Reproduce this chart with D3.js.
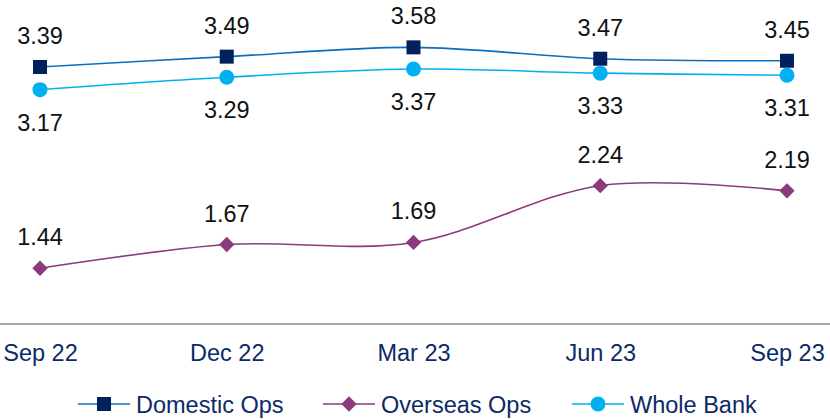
<!DOCTYPE html>
<html>
<head>
<meta charset="utf-8">
<script src="https://cdn.jsdelivr.net/npm/d3@7"></script>
<style>
  html, body { margin: 0; padding: 0; background: #fff; }
  svg { display: block; font-family: "Liberation Sans", Arial, sans-serif; }
</style>
</head>
<body>
<svg id="chart" width="830" height="419"></svg>
<script>
const categories = ["Sep 22", "Dec 22", "Mar 23", "Jun 23", "Sep 23"];
const domesticOps = [3.39, 3.49, 3.58, 3.47, 3.45];
const overseasOps = [1.44, 1.67, 1.69, 2.24, 2.19];
const wholeBank = [3.17, 3.29, 3.37, 3.33, 3.31];
const seriesNames = ["Domestic Ops", "Overseas Ops", "Whole Bank"];

const svg = d3.select("#chart");
const W = 830, H = 419;

const x = d3.scalePoint().domain(categories).range([40, 787]);
const y = d3.scaleLinear().domain([0.9, 4.0]).range([324, 4]);

// axis
const xAxis = d3.axisBottom(x).tickSize(0).tickPadding(18);
const gx = svg.append("g").attr("transform", "translate(0,324)").call(xAxis);
gx.select(".domain").remove();
gx.append("line").attr("x1", 0).attr("x2", W).attr("y1", 0).attr("y2", 0)
  .attr("stroke", "#8c8c8c").attr("stroke-width", 1.5);
gx.selectAll(".tick text")
  .attr("font-size", 23.5).attr("fill", "#0c2a66")
  .attr("y", 37).attr("dy", 0)
  .attr("font-family", "Liberation Sans, Arial, sans-serif");

const series = [
  { name: seriesNames[0], values: domesticOps, line: "#0a6ec0", marker: "#00215e", shape: "square", labelPos: "above" },
  { name: seriesNames[1], values: overseasOps, line: "#8b3a7d", marker: "#8b3a7d", shape: "diamond", labelPos: "above" },
  { name: seriesNames[2], values: wholeBank, line: "#00b0f0", marker: "#00b0f0", shape: "circle", labelPos: "below" }
];

const lineGen = d3.line()
  .x((d, i) => x(categories[i]))
  .y(d => y(d))
  .curve(d3.curveCardinal.tension(0));

function drawMarker(g, shape, cx, cy, color) {
  if (shape === "square") {
    g.append("rect").attr("x", cx - 7).attr("y", cy - 7).attr("width", 14).attr("height", 14).attr("fill", color);
  } else if (shape === "diamond") {
    g.append("path").attr("d", d3.symbol().type(d3.symbolDiamond2).size(150)()).attr("transform", `translate(${cx},${cy}) `).attr("fill", color);
  } else {
    g.append("circle").attr("cx", cx).attr("cy", cy).attr("r", 7.5).attr("fill", color);
  }
}

series.forEach(s => {
  const g = svg.append("g");
  g.append("path").datum(s.values).attr("d", lineGen)
    .attr("fill", "none").attr("stroke", s.line).attr("stroke-width", 1.6);
  s.values.forEach((v, i) => {
    drawMarker(g, s.shape, x(categories[i]), y(v), s.marker);
    g.append("text")
      .attr("x", x(categories[i]))
      .attr("y", s.labelPos === "above" ? y(v) - 23 : y(v) + 41)
      .attr("text-anchor", "middle")
      .attr("font-size", 23.5)
      .attr("fill", "#111")
      .text(v.toFixed(2));
  });
});

// legend
const legendX = [78, 323, 572];
series.forEach((s, i) => {
  const g = svg.append("g").attr("transform", `translate(${legendX[i]},404)`);
  g.append("line").attr("x1", 0).attr("x2", 52).attr("y1", 0).attr("y2", 0)
    .attr("stroke", s.line).attr("stroke-width", 1.6);
  drawMarker(g, s.shape, 26, 0, s.marker);
  g.append("text").attr("x", 58).attr("y", 8.5).attr("font-size", 23.5)
    .attr("fill", "#0c2a66").text(s.name);
});
</script>
</body>
</html>
